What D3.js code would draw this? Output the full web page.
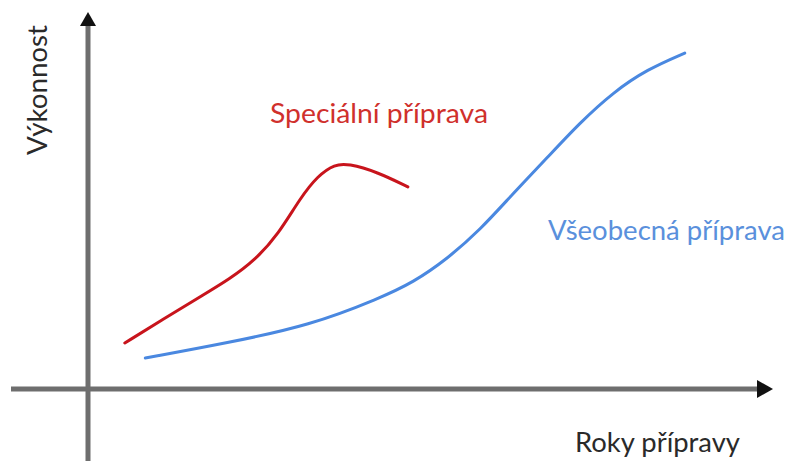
<!DOCTYPE html>
<html>
<head>
<meta charset="utf-8">
<script src="https://cdn.jsdelivr.net/npm/d3@7"></script>
<style>
  html, body { margin: 0; padding: 0; background: #fff; }
  svg { display: block; }
  text { font-family: Lato, "Open Sans", sans-serif; }
</style>
</head>
<body>
<svg id="chart" width="790" height="461"></svg>
<script>
// curves, in axis units (0..100 on both axes)
const specialX = [5.4, 10.9, 16.4, 20.8, 24.5, 27.9, 31.1, 33.7, 36.2, 38.1, 42.4, 46.9]
const specialY = [12.2, 18.4, 24.4, 29.2, 34.2, 41.0, 50.6, 56.6, 59.6, 59.8, 57.6, 53.6]

const generalX = [8.4, 20.4, 32.6, 42.8, 47.7, 52.6, 57.5, 62.3, 67.3, 72.1, 77.0, 82.0, 87.5]
const generalY = [8.2, 12.2, 16.9, 24.1, 28.3, 34.4, 42.2, 51.8, 61.3, 70.6, 78.7, 84.8, 89.1]

const labels = ["Speciální příprava", "Všeobecná příprava"]
const axisTitles = ["Roky přípravy", "Výkonnost"]

const svg = d3.select("#chart")

const x = d3.scaleLinear().domain([0, 100]).range([88, 770])
const y = d3.scaleLinear().domain([0, 100]).range([389, 12])

const AXIS_COLOR = "#6e6e6e"

// axes (no ticks, just arrows)
svg.append("line")
    .attr("x1", 11).attr("x2", 760)
    .attr("y1", y(0)).attr("y2", y(0))
    .attr("stroke", AXIS_COLOR).attr("stroke-width", 5)
svg.append("line")
    .attr("x1", x(0)).attr("x2", x(0))
    .attr("y1", 461).attr("y2", 24)
    .attr("stroke", AXIS_COLOR).attr("stroke-width", 5)

svg.append("path")
    .attr("d", `M${x(0) - 8},${y(100) + 14}L${x(0)},${y(100)}L${x(0) + 8},${y(100) + 14}Z`)
    .attr("fill", "#111")
svg.append("path")
    .attr("d", `M757,${y(0) - 9}L773,${y(0)}L757,${y(0) + 9}Z`)
    .attr("fill", "#111")

const line = d3.line()
    .x(d => x(d[0]))
    .y(d => y(d[1]))
    .curve(d3.curveBasis)

svg.append("path")
    .datum(d3.zip(specialX, specialY))
    .attr("d", line)
    .attr("fill", "none")
    .attr("stroke", "#c8141c")
    .attr("stroke-width", 3)
    .attr("stroke-linecap", "round")

svg.append("path")
    .datum(d3.zip(generalX, generalY))
    .attr("d", line)
    .attr("fill", "none")
    .attr("stroke", "#4a88e0")
    .attr("stroke-width", 3)
    .attr("stroke-linecap", "round")

function label(txt, px, py, width, color, rotate) {
    const t = svg.append("text")
        .attr("x", px).attr("y", py)
        .attr("fill", color)
        .style("font-size", "26px")
        .attr("textLength", width)
        .attr("lengthAdjust", "spacingAndGlyphs")
        .text(txt)
    if (rotate) t.attr("transform", `rotate(-90,${px},${py})`)
    return t
}

label(labels[0], 270, 123, 218, "#d0302c")
label(labels[1], 548, 240, 237, "#5a90dc")
label(axisTitles[0], 575, 452, 165, "#2a2a2a")
label(axisTitles[1], 47, 155, 130, "#2a2a2a", true)
</script>
</body>
</html>
